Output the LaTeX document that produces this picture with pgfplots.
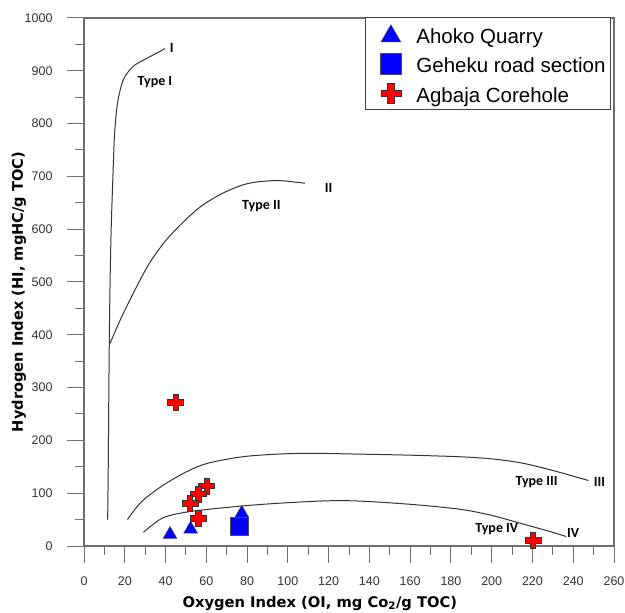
\documentclass[border=0pt]{standalone}
\usepackage{pgfplots}
\pgfplotsset{compat=1.18}
\usepackage{fontspec}
\setmainfont{Liberation Sans}
\newfontfamily\carlito{Carlito}
\newfontfamily\heavy{DejaVu Sans}

\pgfdeclareplotmark{rcross}{%
  \pgfpathmoveto{\pgfqpoint{-0.33\pgfplotmarksize}{\pgfplotmarksize}}%
  \pgfpathlineto{\pgfqpoint{0.33\pgfplotmarksize}{\pgfplotmarksize}}%
  \pgfpathlineto{\pgfqpoint{0.33\pgfplotmarksize}{0.33\pgfplotmarksize}}%
  \pgfpathlineto{\pgfqpoint{\pgfplotmarksize}{0.33\pgfplotmarksize}}%
  \pgfpathlineto{\pgfqpoint{\pgfplotmarksize}{-0.33\pgfplotmarksize}}%
  \pgfpathlineto{\pgfqpoint{0.33\pgfplotmarksize}{-0.33\pgfplotmarksize}}%
  \pgfpathlineto{\pgfqpoint{0.33\pgfplotmarksize}{-\pgfplotmarksize}}%
  \pgfpathlineto{\pgfqpoint{-0.33\pgfplotmarksize}{-\pgfplotmarksize}}%
  \pgfpathlineto{\pgfqpoint{-0.33\pgfplotmarksize}{-0.33\pgfplotmarksize}}%
  \pgfpathlineto{\pgfqpoint{-\pgfplotmarksize}{-0.33\pgfplotmarksize}}%
  \pgfpathlineto{\pgfqpoint{-\pgfplotmarksize}{0.33\pgfplotmarksize}}%
  \pgfpathlineto{\pgfqpoint{-0.33\pgfplotmarksize}{0.33\pgfplotmarksize}}%
  \pgfpathclose
  \pgfusepathqfillstroke}

\definecolor{mblue}{RGB}{0,0,255}
\definecolor{mred}{RGB}{255,0,0}
\definecolor{axgray}{RGB}{110,110,110}

\begin{document}
\begin{tikzpicture}
\begin{axis}[
  name=ax,
  width=530pt, height=528pt, scale only axis,
  xmin=0, xmax=260, ymin=0, ymax=1000,
  xtick={0,20,...,260}, ytick={0,100,...,1000},
  minor x tick num=1, minor y tick num=1,
  tick align=outside, xtick pos=bottom, ytick pos=left,
  major tick length=17pt, minor tick length=9pt,
  axis line style={draw=axgray, line width=1.5pt},
  every tick/.style={draw=axgray, line width=1pt},
  tick label style={font=\fontsize{12.5}{14}\selectfont, text=black!80},
  xticklabel style={yshift=-10pt},
  yticklabel style={xshift=-11pt},
  /pgf/number format/assume math mode=true,
  /pgf/number format/1000 sep={},
  xlabel={\heavy\bfseries Oxygen Index (OI, mg Co\textsubscript{2}/g TOC)},
  xlabel style={at={(axis description cs:0.445,-0.108)}, anchor=center, font=\fontsize{14.7}{16}\selectfont},
  ylabel={\heavy\bfseries Hydrogen Index (HI, mgHC/g TOC)},
  ylabel style={at={(axis description cs:-0.123,0.481)}, anchor=center, font=\fontsize{14.6}{16}\selectfont},
  legend style={at={(axis description cs:0.530,1.002)}, anchor=north west,
     draw=black!75, line width=1pt, fill=white,
     font=\fontsize{20.5}{23}\selectfont, row sep=4pt, inner xsep=3pt, inner ysep=4pt},
  legend cell align=left,
  clip=false,
]
% Kerogen type curves
\addplot[forget plot, smooth, draw=black!80, line width=1pt] coordinates {
 (11.6,50) (11.9,150) (12.2,300) (12.6,450) (13.2,580) (14,680) (15,780) (16.5,840) (19.3,883) (24,908) (30,922) (35,932) (39.7,942)};
\addplot[forget plot, smooth, draw=black!80, line width=1pt] coordinates {
 (12.8,384) (18,430) (25,485) (32,535) (40,578) (49.6,617) (58,645) (68,668) (78,684) (86,690) (96,692) (108.4,687)};
\addplot[forget plot, smooth, draw=black!80, line width=1pt] coordinates {
 (21.3,50) (28,83) (38,113) (50,140) (61,157) (80,170) (106,175.5) (135,174) (160,172) (184.5,169) (200,165) (215,157) (230,143) (247.5,124)};
\addplot[forget plot, smooth, draw=black!80, line width=1pt] coordinates {
 (29.1,26) (38,52) (47,62) (61,69.5) (89.6,79.5) (125.6,86) (158.3,79.5) (184.5,69.5) (200,58) (215,42) (228,28) (236.5,18)};

% Data
\addplot[only marks, mark=triangle*, mark size=8pt, mark options={fill=mblue, draw=black!70, line width=0.4pt},
  legend image code/.code={\path (0pt,0pt) (45pt,0pt); \draw[mark size=11.5pt] plot coordinates {(22pt,-2pt)};}]
  coordinates {(42.2,22) (52.3,32) (77.4,62)};
\addlegendentry{\rule{0pt}{20pt}Ahoko Quarry}
\addplot[only marks, mark=square*, mark size=9pt, mark options={fill=mblue, draw=black!70, line width=0.4pt},
  legend image code/.code={\path (0pt,0pt) (45pt,0pt); \draw[mark size=10.5pt] plot coordinates {(22pt,0pt)};}]
  coordinates {(76,37)};
\addlegendentry{\rule{0pt}{20pt}Geheku road section}
\addplot[only marks, mark=rcross, mark size=8pt, mark options={fill=mred, draw=black!80, line width=0.6pt},
  legend image code/.code={\path (0pt,0pt) (45pt,0pt); \draw[mark size=10pt] plot coordinates {(22pt,0pt)};}]
  coordinates {(45,272) (60.2,114) (56.1,98.5) (52,81) (56.1,52.5) (220.3,11)};
\addlegendentry{\rule{0pt}{20pt}Agbaja Corehole}

% Curve labels
\node[font=\carlito\bfseries\fontsize{14}{16}\selectfont] at (axis cs:43,943) {I};
\node[font=\carlito\bfseries\fontsize{14}{16}\selectfont] at (axis cs:34.8,879) {Type I};
\node[font=\carlito\bfseries\fontsize{14}{16}\selectfont] at (axis cs:120,679) {II};
\node[font=\carlito\bfseries\fontsize{14}{16}\selectfont] at (axis cs:87,643) {Type II};
\node[font=\carlito\bfseries\fontsize{14}{16}\selectfont] at (axis cs:252.9,122) {III};
\node[font=\carlito\bfseries\fontsize{14}{16}\selectfont] at (axis cs:222,122) {Type III};
\node[font=\carlito\bfseries\fontsize{14}{16}\selectfont] at (axis cs:240,25) {IV};
\node[font=\carlito\bfseries\fontsize{14}{16}\selectfont] at (axis cs:202.5,31.6) {Type IV};
\end{axis}
\pgfresetboundingbox
\path[use as bounding box] ([shift={(-84pt,-66pt)}]ax.south west) rectangle ([shift={(11pt,18pt)}]ax.north east);
\end{tikzpicture}
\end{document}
